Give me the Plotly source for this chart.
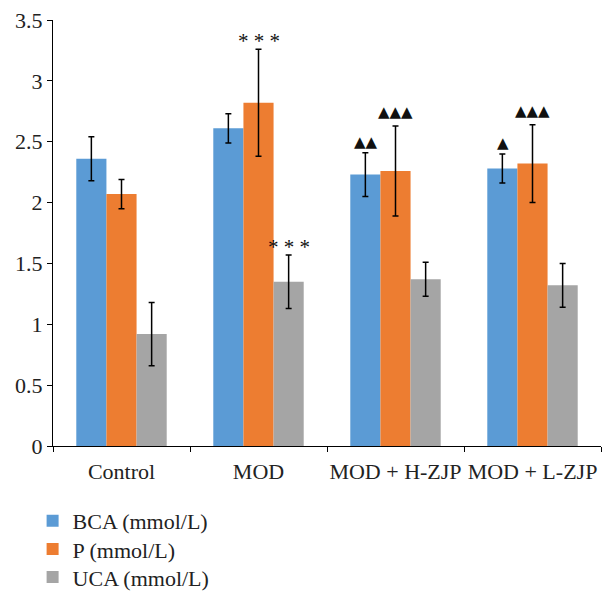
import plotly.graph_objects as go

categories = ["Control", "MOD", "MOD + H-ZJP", "MOD + L-ZJP"]
series_names = ["BCA (mmol/L)", "P (mmol/L)", "UCA (mmol/L)"]
bca = [2.36, 2.61, 2.23, 2.28]
bca_err = [0.18, 0.12, 0.18, 0.12]
p = [2.07, 2.82, 2.26, 2.32]
p_err = [0.12, 0.44, 0.37, 0.32]
uca = [0.92, 1.35, 1.37, 1.32]
uca_err = [0.26, 0.22, 0.14, 0.18]
y_ticks = [0, 0.5, 1, 1.5, 2, 2.5, 3, 3.5]
y_tick_labels = ["0", "0.5", "1", "1.5", "2", "2.5", "3", "3.5"]

# significance marks: (category index, series index, label)
sig_marks = [
    (1, 1, "* * *"),
    (1, 2, "* * *"),
    (2, 0, "▲▲"),
    (2, 1, "▲▲▲"),
    (3, 0, "▲"),
    (3, 1, "▲▲▲"),
]

colors = ["#5B9BD5", "#ED7D31", "#A5A5A5"]
values = [bca, p, uca]
errors = [bca_err, p_err, uca_err]
FONT = "Liberation Serif, Times New Roman, serif"

# The page body has an 8px margin, so the figure is 8px smaller than the window.
W, H = 606, 593
legend_ids = ["legend", "legend2", "legend3"]
legend_rows = [0.135, 0.0875, 0.04]

fig = go.Figure()
for name, vals, errs, col, lid in zip(series_names, values, errors, colors, legend_ids):
    fig.add_trace(go.Bar(
        name=name, x=categories, y=vals, marker=dict(color=col, line=dict(width=0)),
        error_y=dict(type="data", array=errs, visible=True, color="black",
                     thickness=1.5, width=3),
        legend=lid,
    ))

bar_px = 30
for ci, si, label in sig_marks:
    top = values[si][ci] + errors[si][ci]
    star = "*" in label
    fig.add_annotation(
        x=categories[ci], y=top, xref="x", yref="y", text=label,
        showarrow=False, xshift=(si - 1) * bar_px, yanchor="bottom",
        yshift=-6 if star else (3 if si == 1 else 0),
        font=dict(family=FONT if star else "DejaVu Sans", size=21 if star else 15, color="#111"),
    )

legend_style = dict(xref="container", yref="container", xanchor="left", yanchor="middle",
                    orientation="v", font=dict(family=FONT, size=22, color="#222"),
                    itemwidth=30, bgcolor="rgba(0,0,0,0)")
layout_legends = {}
for lid, ry in zip(legend_ids, legend_rows):
    layout_legends[lid] = dict(x=0.0406, y=ry, **legend_style)

fig.update_layout(
    width=W, height=H,
    margin=dict(l=45, r=13, t=12, b=155, autoexpand=False),
    paper_bgcolor="white", plot_bgcolor="white",
    barmode="group", bargap=0.34, bargroupgap=0,
    font=dict(family=FONT, size=20, color="black"),
    showlegend=True,
    **layout_legends,
)
fig.update_xaxes(
    showline=True, linecolor="black", linewidth=1.2, ticks="outside", tickson="boundaries",
    ticklen=5, tickcolor="black", showgrid=False, automargin=False, tickangle=0,
    ticklabeloverflow="allow", ticklabelstandoff=5,
    tickfont=dict(family=FONT, size=22, color="#222"),
)
fig.update_yaxes(
    range=[0, 3.5], tickvals=y_ticks, ticktext=y_tick_labels, showline=True,
    linecolor="black", linewidth=1.2, ticks="outside", ticklen=5, tickcolor="black",
    showgrid=False, zeroline=False, automargin=False, ticklabeloverflow="allow",
    tickfont=dict(family=FONT, size=22, color="#222"),
)

fig.write_html("out.html")
